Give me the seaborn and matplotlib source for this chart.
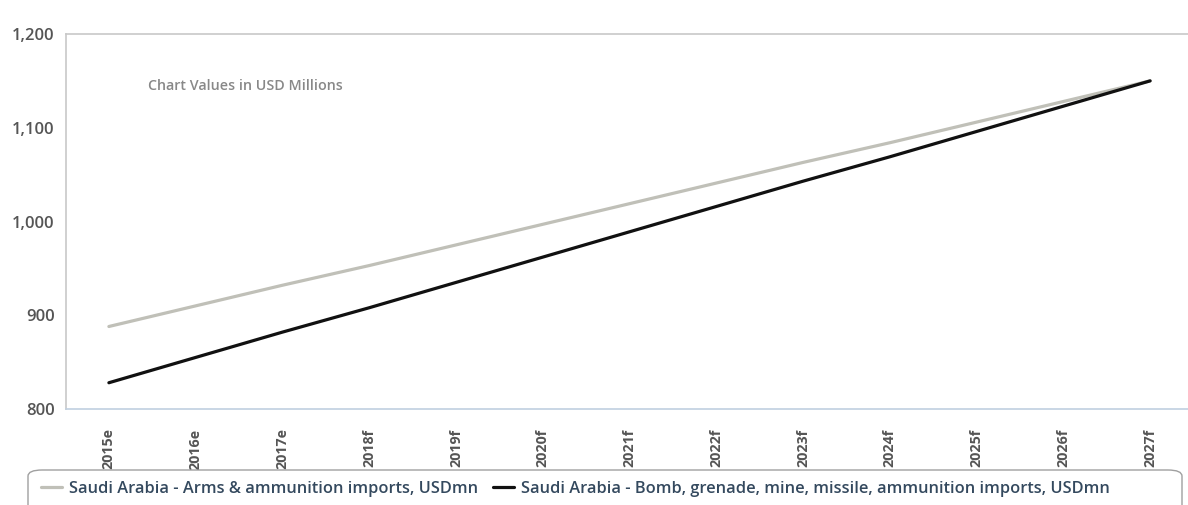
import matplotlib
matplotlib.use("Agg")
import matplotlib.pyplot as plt
from matplotlib.patches import FancyBboxPatch
import seaborn as sns
import pandas as pd

years = ["2015e", "2016e", "2017e", "2018f", "2019f", "2020f", "2021f",
         "2022f", "2023f", "2024f", "2025f", "2026f", "2027f"]
arms_imports = [888, 910, 932, 953, 975, 997, 1019, 1041, 1063, 1084, 1106, 1128, 1150]
bomb_imports = [828, 855, 882, 908, 935, 962, 989, 1016, 1043, 1069, 1096, 1123, 1150]
series_names = [
    "Saudi Arabia - Arms & ammunition imports, USDmn",
    "Saudi Arabia - Bomb, grenade, mine, missile, ammunition imports, USDmn",
]
y_ticks = [800, 900, 1000, 1100, 1200]

sns.set_theme(style="white")
plt.rcParams["font.family"] = ["Open Sans", "DejaVu Sans"]

df = pd.concat([
    pd.DataFrame({"year": years, "value": arms_imports, "series": series_names[0]}),
    pd.DataFrame({"year": years, "value": bomb_imports, "series": series_names[1]}),
])
df["pos"] = df["year"].map({y: i for i, y in enumerate(years)})

fig = plt.figure(figsize=(11.88, 5.05), dpi=100)
W, H = 1188, 505
left_px, right_px, top_px, bottom_px = 65.5, 1193.5, 34, 409
ax = fig.add_axes([left_px / W, 1 - bottom_px / H,
                   (right_px - left_px) / W, (bottom_px - top_px) / H])

palette = {series_names[0]: "#c0c0b8", series_names[1]: "#111111"}
sns.lineplot(data=df, x="pos", y="value", hue="series", palette=palette,
             linewidth=2.3, ax=ax, legend=False)

ax.set_xlim(-0.5, len(years) - 0.5)
ax.set_ylim(800, 1200)
ax.set_xlabel("")
ax.set_ylabel("")

ax.set_yticks(y_ticks)
ax.set_yticklabels([f"{v:,}" for v in y_ticks], color="#555555", fontsize=12,
                   fontweight="semibold")
ax.set_xticks(range(len(years)))
ax.set_xticklabels(years, rotation=90, color="#555555", fontsize=10.3,
                   fontweight="bold")
ax.tick_params(axis="x", which="major", length=0, pad=14)
ax.set_xticks([i + 0.5 for i in range(-1, len(years))], minor=True)
ax.tick_params(axis="x", which="minor", length=7, color="#c0d0e0", width=1,
               direction="out")
ax.tick_params(axis="y", length=5, color="#c8c8c8", width=1, direction="out", pad=3)

for side in ["top", "left"]:
    ax.spines[side].set_color("#c8c8c8")
    ax.spines[side].set_linewidth(1.2)
ax.spines["right"].set_visible(False)
ax.spines["bottom"].set_color("#c0d0e0")
ax.spines["bottom"].set_linewidth(1.2)

ax.text(148 / W, 1 - 86 / H, "Chart Values in USD Millions", transform=fig.transFigure,
        color="#888888", fontsize=10.3, fontweight="semibold", va="center", ha="left")

# Rounded legend frame running off the bottom edge
frame = FancyBboxPatch((28 / W, -0.05), (1182 - 28) / W, 0.05 + (505 - 470) / H,
                       boxstyle="round,pad=0,rounding_size=0.012",
                       transform=fig.transFigure, facecolor="white",
                       edgecolor="#a0a0a0", linewidth=1.0, zorder=1)
fig.add_artist(frame)

handles = [plt.Line2D([], [], color=palette[n], linewidth=2.3) for n in series_names]
leg = fig.legend(handles, series_names, loc="center left",
                 bbox_to_anchor=(38 / W, 1 - 489 / H), ncol=2, frameon=False,
                 handlelength=1.25, handletextpad=0.45, columnspacing=0.9,
                 borderpad=0.2, borderaxespad=0,
                 prop={"size": 11.8, "weight": "semibold"})
leg.set_zorder(2)
for t in leg.get_texts():
    t.set_color("#34495e")

fig.savefig("out.png", dpi=100)
